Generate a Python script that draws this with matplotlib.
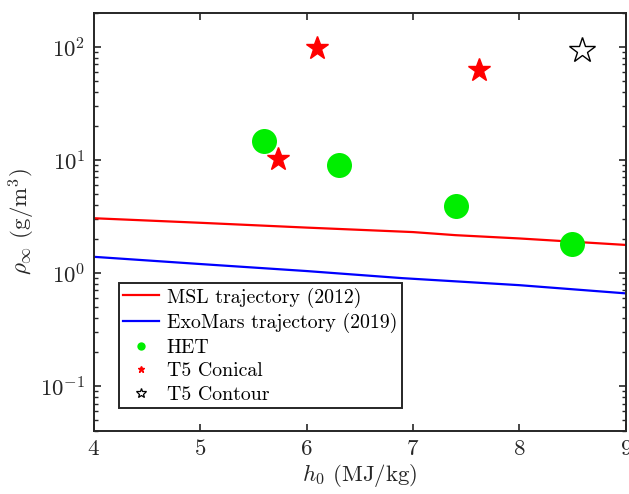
import matplotlib
matplotlib.use("Agg")
import matplotlib.pyplot as plt
from matplotlib.lines import Line2D

# trajectories
msl_h = [4.0, 5.0, 6.0, 7.0, 7.4, 8.0, 9.0]
msl_rho = [3.05, 2.78, 2.52, 2.3, 2.16, 2.02, 1.77]
exo_h = [4.0, 5.0, 6.0, 6.9, 8.0, 9.0]
exo_rho = [1.39, 1.20, 1.04, 0.90, 0.78, 0.66]

# experiments
het_h = [5.60, 6.30, 7.40, 8.49]
het_rho = [14.7, 9.0, 3.95, 1.82]
con_h = [6.10, 7.62, 5.73]
con_rho = [96.8, 62.7, 10.2]
cont_h = [8.59]
cont_rho = [94.0]

plt.rcParams["font.family"] = "serif"
plt.rcParams["font.serif"] = ["cmr10"]
plt.rcParams["mathtext.fontset"] = "cm"
plt.rcParams["axes.unicode_minus"] = False
plt.rcParams["axes.formatter.use_mathtext"] = True

FS = 16.5
fig = plt.figure(figsize=(6.29, 4.94), dpi=100)
ax = fig.add_axes([0.149, 0.1275, 0.846, 0.8465])

ax.semilogy(msl_h, msl_rho, "-", color="#ff0000", lw=1.6)
ax.semilogy(exo_h, exo_rho, "-", color="#0000ff", lw=1.6)
ax.plot(het_h, het_rho, "o", color="#00ee00", ms=18, mec="none")
ax.plot(con_h, con_rho, "*", color="#ff0000", ms=17, mec="#ff0000")
ax.plot(cont_h, cont_rho, "*", color="black", mfc="white", ms=19, mew=1.0)

ax.set_xlim(4, 9)
ax.set_ylim(0.04, 200)
ax.set_xticks([4, 5, 6, 7, 8, 9])

ax.tick_params(which="both", direction="in", top=True, right=True,
               labelsize=FS, colors="#262626")
ax.tick_params(which="major", length=5, width=1.2, pad=6)
ax.tick_params(which="minor", length=3, width=1.0)
for s in ax.spines.values():
    s.set_linewidth(1.4)
    s.set_color("#262626")

ax.set_xlabel(r"$h_0$ (MJ/kg)", fontsize=FS, color="#262626", labelpad=2)
ax.set_ylabel(r"$\rho_\infty$ (g/m$^3$)", fontsize=FS, color="#262626", labelpad=2)

handles = [
    Line2D([], [], color="#ff0000", lw=1.6),
    Line2D([], [], color="#0000ff", lw=1.6),
    Line2D([], [], ls="none", marker="o", color="#00ee00", ms=6, mec="none"),
    Line2D([], [], ls="none", marker="*", color="#ff0000", ms=5),
    Line2D([], [], ls="none", marker="*", color="black", mfc="white", ms=7, mew=0.9),
]
labels = ["MSL trajectory (2012)", "ExoMars trajectory (2019)", "HET",
          "T5 Conical", "T5 Contour"]
leg = ax.legend(handles, labels, loc="lower left", bbox_to_anchor=(0.047, 0.055),
                borderaxespad=0, fontsize=14.3, fancybox=False, framealpha=1,
                edgecolor="#262626", handlelength=1.8, handletextpad=0.4,
                labelspacing=0.28, borderpad=0.22)
leg.get_frame().set_linewidth(1.4)

fig.savefig("out.png", dpi=100)
